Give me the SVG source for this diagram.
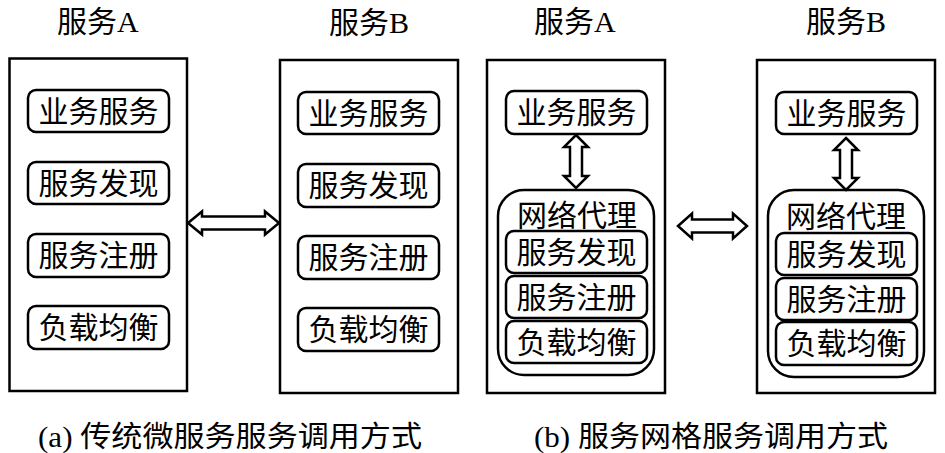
<svg xmlns="http://www.w3.org/2000/svg" width="945" height="453" viewBox="0 0 945 453">
<style>
.t{font-family:"Liberation Serif","Noto Sans CJK SC",serif;fill:#000}
.title{font-size:30px}
.lbl{font-size:30px;text-anchor:middle}
.cap{font-size:29px}
.outer{fill:#fff;stroke:#000;stroke-width:2.5}
.inner{fill:#fff;stroke:#000;stroke-width:2.5}
.arrow{fill:#fff;stroke:#000;stroke-width:2.5;stroke-linejoin:miter}
</style>
<rect width="945" height="453" fill="#fff"/>

<g id="titles">
<text class="t title" x="57" y="32">服务A</text>
<text class="t title" x="329" y="33">服务B</text>
<text class="t title" x="534" y="32">服务A</text>
<text class="t title" x="806" y="32">服务B</text>
</g>

<g id="a-serviceA">
<rect class="outer" x="9.5" y="58.5" width="177.5" height="332.5"/>
<g id="a-A-biz"><rect class="inner" x="28" y="90" width="141" height="42" rx="8"/><text class="t lbl" x="98.5" y="121.5">业务服务</text></g>
<g id="a-A-disc"><rect class="inner" x="28" y="162" width="141" height="42" rx="8"/><text class="t lbl" x="98.5" y="193.5">服务发现</text></g>
<g id="a-A-reg"><rect class="inner" x="28" y="234" width="141" height="43" rx="8"/><text class="t lbl" x="98.5" y="266">服务注册</text></g>
<g id="a-A-lb"><rect class="inner" x="28" y="306" width="141" height="43" rx="8"/><text class="t lbl" x="98.5" y="338">负载均衡</text></g>
</g>

<g id="a-serviceB">
<rect class="outer" x="280" y="60" width="178" height="333"/>
<g id="a-B-biz"><rect class="inner" x="298" y="92" width="141" height="42" rx="8"/><text class="t lbl" x="368.5" y="123.5">业务服务</text></g>
<g id="a-B-disc"><rect class="inner" x="298" y="164" width="141" height="43" rx="8"/><text class="t lbl" x="368.5" y="196">服务发现</text></g>
<g id="a-B-reg"><rect class="inner" x="298" y="236" width="141" height="43" rx="8"/><text class="t lbl" x="368.5" y="268">服务注册</text></g>
<g id="a-B-lb"><rect class="inner" x="298" y="308" width="141" height="43" rx="8"/><text class="t lbl" x="368.5" y="340">负载均衡</text></g>
</g>

<g id="b-serviceA">
<rect class="outer" x="487" y="60" width="178" height="333"/>
<g id="b-A-biz"><rect class="inner" x="506" y="91" width="141" height="43" rx="8"/><text class="t lbl" x="576.5" y="123">业务服务</text></g>
<g id="b-A-proxy">
<rect class="inner" x="498" y="190" width="156" height="185" rx="26"/>
<text class="t lbl" x="577" y="226">网络代理</text>
<g id="b-A-disc"><rect class="inner" x="506" y="231" width="141" height="42" rx="8"/><text class="t lbl" x="576.5" y="262.5">服务发现</text></g>
<g id="b-A-reg"><rect class="inner" x="506" y="276" width="141" height="42" rx="8"/><text class="t lbl" x="576.5" y="307.5">服务注册</text></g>
<g id="b-A-lb"><rect class="inner" x="506" y="321" width="141" height="42" rx="8"/><text class="t lbl" x="576.5" y="352.5">负载均衡</text></g>
</g>
</g>

<g id="b-serviceB">
<rect class="outer" x="757" y="60" width="178" height="333"/>
<g id="b-B-biz"><rect class="inner" x="776" y="92" width="141" height="42" rx="8"/><text class="t lbl" x="846.5" y="123.5">业务服务</text></g>
<g id="b-B-proxy">
<rect class="inner" x="768" y="190" width="156" height="187" rx="26"/>
<text class="t lbl" x="846" y="227">网络代理</text>
<g id="b-B-disc"><rect class="inner" x="776" y="233" width="141" height="42" rx="8"/><text class="t lbl" x="846.5" y="264.5">服务发现</text></g>
<g id="b-B-reg"><rect class="inner" x="776" y="278" width="141" height="42" rx="8"/><text class="t lbl" x="846.5" y="309.5">服务注册</text></g>
<g id="b-B-lb"><rect class="inner" x="776" y="322" width="141" height="43" rx="8"/><text class="t lbl" x="846.5" y="354">负载均衡</text></g>
</g>
</g>

<g id="connectors">
<polygon class="arrow" points="188,223 202,211.5 202,216.5 265,216.5 265,211.5 279,223 265,234.5 265,229.5 202,229.5 202,234.5"/>
<polygon class="arrow" points="678,226 692,213.5 692,219.5 733,219.5 733,213.5 747,226 733,238.5 733,232.5 692,232.5 692,238.5"/>
<polygon class="arrow" points="576,135 588,147 582,147 582,176 588,176 576,188 564,176 570,176 570,147 564,147"/>
<polygon class="arrow" points="846,138 858,150 852,150 852,178 858,178 846,190 834,178 840,178 840,150 834,150"/>
</g>

<g id="captions">
<text class="t cap" x="38" y="447" textLength="384" lengthAdjust="spacingAndGlyphs">(a) 传统微服务服务调用方式</text>
<text class="t cap" x="534" y="447" textLength="354" lengthAdjust="spacingAndGlyphs">(b) 服务网格服务调用方式</text>
</g>
</svg>
